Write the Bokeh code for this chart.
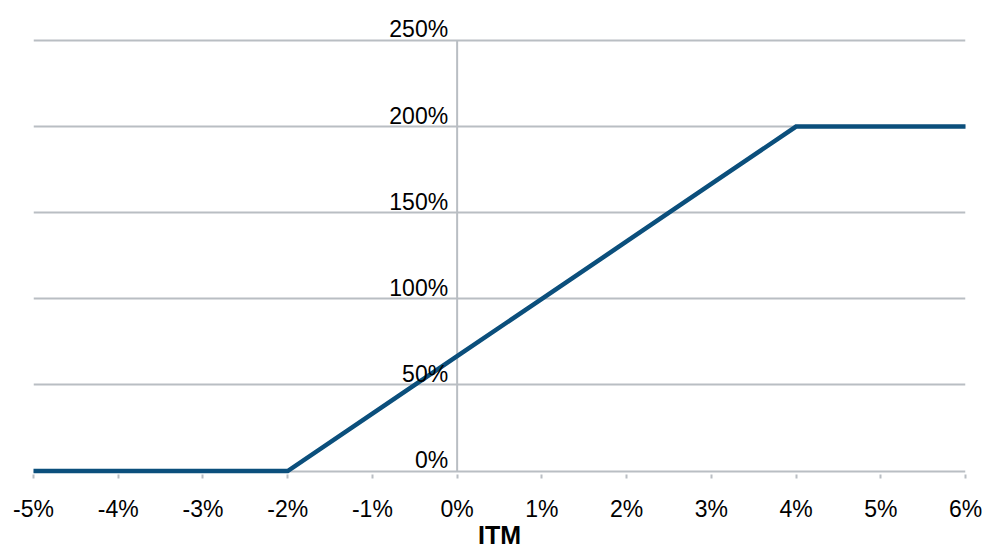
from bokeh.plotting import figure
from bokeh.models import FixedTicker, LabelSet, ColumnDataSource
from bokeh.core.properties import value
from bokeh.embed import file_html
from bokeh.resources import INLINE

# Payoff as a function of ITM (in %)
itm = [-5, -4, -3, -2, -1, 0, 1, 2, 3, 4, 5, 6]
payoff = [0, 0, 0, 0, 33.3, 66.7, 100, 133.3, 166.7, 200, 200, 200]

x_ticks = [-5, -4, -3, -2, -1, 0, 1, 2, 3, 4, 5, 6]
x_tick_labels = ["-5%", "-4%", "-3%", "-2%", "-1%", "0%", "1%", "2%", "3%", "4%", "5%", "6%"]
y_ticks = [0, 50, 100, 150, 200, 250]
y_tick_labels = ["0%", "50%", "100%", "150%", "200%", "250%"]

FONT = "Liberation Sans"
GRID = "#b9bec3"
LINE = "#0b4f7c"

# A little room below 0% so the flat part of the line is not cut in half,
# and room above 250% for its label.
p = figure(width=984, height=551, x_range=(-5, 6), y_range=(-2, 267.4),
           output_backend="svg", toolbar_location=None,
           min_border_left=33, min_border_right=19,
           min_border_top=10, min_border_bottom=70)
p.outline_line_color = None
p.background_fill_color = "white"
p.border_fill_color = "white"

# Horizontal gridlines at every 50%
p.ygrid.ticker = FixedTicker(ticks=y_ticks)
p.ygrid.grid_line_color = GRID
p.ygrid.grid_line_width = 2
p.xgrid.visible = False
p.yaxis.visible = False

# Vertical value axis through 0% ITM
p.segment(x0=[0], y0=[y_ticks[0]], x1=[0], y1=[y_ticks[-1]],
          line_color=GRID, line_width=2)

xa = p.xaxis[0]
xa.ticker = FixedTicker(ticks=x_ticks)
xa.major_label_overrides = dict(zip(x_ticks, x_tick_labels))
xa.axis_line_color = None
xa.major_tick_line_color = GRID
xa.major_tick_line_width = 2
xa.major_tick_out = 4
xa.major_tick_in = 0
xa.minor_tick_line_color = None
xa.major_label_text_font = FONT
xa.major_label_text_font_size = "23px"
xa.major_label_text_color = "black"
xa.major_label_standoff = 17
xa.axis_label = "ITM"
xa.axis_label_text_font = FONT
xa.axis_label_text_font_size = "25px"
xa.axis_label_text_font_style = "bold"
xa.axis_label_text_color = "black"
xa.axis_label_standoff = -4

p.line(itm, payoff, line_color=LINE, line_width=4.5, line_cap="round", line_join="miter")

# Value labels sit just left of the 0% vertical line, above each gridline
ysrc = ColumnDataSource(dict(x=[0] * len(y_ticks), y=y_ticks, text=y_tick_labels))
p.add_layout(LabelSet(x="x", y="y", text="text", source=ysrc,
                      x_offset=-9, y_offset=3,
                      text_align="right", text_baseline="alphabetic",
                      text_font=value(FONT), text_font_size=value("23px"),
                      text_color="black"))

open("out.html", "w").write(file_html(p, INLINE))
